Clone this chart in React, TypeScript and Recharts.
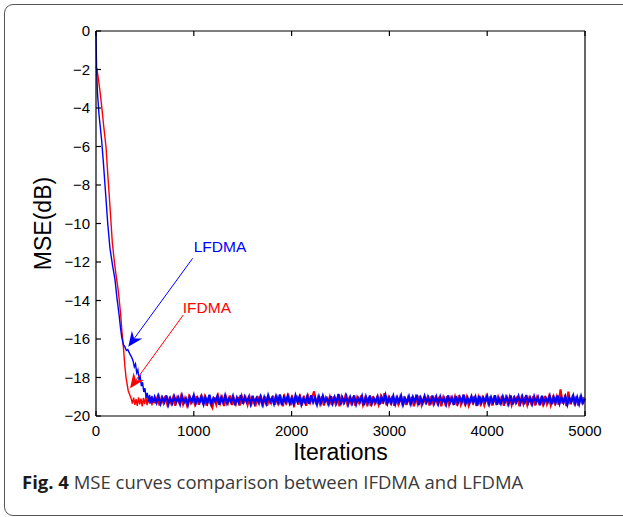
// MSE learning curves, IFDMA vs LFDMA (MATLAB-style figure with caption).

import { LineChart, Line, XAxis, YAxis, ReferenceLine, ReferenceDot, Label } from "recharts";

const X_TICKS = [0, 1000, 2000, 3000, 4000, 5000];
const Y_TICKS = [0, -2, -4, -6, -8, -10, -12, -14, -16, -18, -20];

// transient part
const IFDMA_HEAD_X = [0, 10, 25, 40, 58, 80, 102, 120, 140, 167, 190, 211, 228, 250, 265, 280, 295, 307, 320, 330, 345, 360, 372, 385, 398, 410, 422, 435, 447, 460, 472, 485, 497, 510, 522, 535, 547, 560, 572, 585, 597];
const IFDMA_HEAD_Y = [-1.85, -2.0, -2.5, -3.1, -3.9, -5.0, -6.0, -7.4, -8.9, -11.0, -12.1, -12.9, -13.5, -14.6, -15.6, -16.4, -17.4, -18.0, -18.4, -18.7, -18.9, -19.1, -19.35, -19.05, -19.42, -19.12, -19.47, -19.03, -19.4, -19.1, -19.5, -19.06, -19.38, -19.0, -19.44, -19.08, -19.36, -19.02, -19.45, -19.1, -19.33];
const LFDMA_HEAD_X = [0, 6, 15, 30, 58, 75, 92, 120, 143, 170, 194, 215, 235, 250, 263, 280, 295, 310, 325, 348, 365, 380, 392, 404, 416, 428, 440, 452, 464, 476, 488, 500, 512, 524, 536, 548, 560, 572, 585];
const LFDMA_HEAD_Y = [0, -2.0, -3.2, -4.3, -5.7, -6.8, -8.0, -10.0, -11.3, -12.2, -12.9, -13.9, -14.7, -15.4, -15.9, -16.3, -16.4, -16.6, -16.55, -16.8, -16.95, -17.15, -17.45, -17.3, -17.75, -17.6, -18.1, -17.95, -18.45, -18.25, -18.75, -18.55, -19.05, -18.8, -19.25, -18.9, -19.35, -18.95, -19.3];

// steady state, one value every 20 iterations from 600 to 5000
const LFDMA_TAIL = [
  -19.02, -19.31, -18.97, -19.36, -19.05, -19.28, -18.93, -19.4, -19.08, -19.33,
  -18.99, -19.27, -19.04, -19.38, -18.95, -19.3, -19.1, -19.42, -19.01, -19.26,
  -18.92, -19.35, -19.06, -19.29, -18.98, -19.39, -19.03, -19.32, -18.9, -19.37,
  -19.07, -19.25, -18.96, -19.41, -19.02, -19.3, -18.94, -19.34, -19.09, -19.28,
  -18.97, -19.44, -19.05, -19.31, -18.91, -19.36, -19.0, -19.27, -19.04, -19.39,
  -18.95, -19.33, -19.08, -19.29, -18.99, -19.4, -19.03, -19.35, -18.93, -19.26,
  -19.06, -19.37, -18.98, -19.3, -18.88, -19.43, -19.02, -19.28, -18.96, -19.34,
  -19.05, -19.38, -18.94, -19.27, -19.0, -19.41, -19.07, -19.32, -18.97, -19.36,
  -18.92, -19.29, -19.04, -19.4, -18.99, -19.33, -18.95, -19.26, -19.08, -19.38,
  -18.96, -19.35, -19.01, -19.3, -18.86, -19.42, -19.05, -19.28, -18.98, -19.37,
  -19.03, -19.31, -18.93, -19.39, -19.06, -19.27, -18.97, -19.44, -19.0, -19.33,
  -18.94, -19.36, -19.07, -19.29, -18.99, -19.4, -19.02, -19.25, -18.91, -19.35,
  -19.05, -19.32, -18.96, -19.38, -19.03, -19.28, -18.95, -19.41, -19.08, -19.3,
  -18.98, -19.37, -19.01, -19.26, -18.9, -19.43, -19.06, -19.33, -18.97, -19.29,
  -19.04, -19.4, -18.94, -19.31, -19.0, -19.36, -18.99, -19.27, -19.07, -19.39,
  -18.93, -19.3, -19.05, -19.42, -18.96, -19.34, -19.02, -19.28, -18.89, -19.37,
  -19.06, -19.33, -18.98, -19.29, -19.01, -19.45, -18.95, -19.32, -19.04, -19.26,
  -18.97, -19.38, -19.03, -19.3, -18.92, -19.41, -19.08, -19.35, -18.99, -19.28,
  -19.02, -19.36, -18.94, -19.4, -19.05, -19.27, -18.97, -19.33, -19.0, -19.39,
  -18.91, -19.31, -19.06, -19.37, -18.98, -19.29, -19.03, -19.44, -18.95, -19.34,
  -19.07, -19.28, -18.96, -19.39, -19.01, -19.32, -18.93, -19.36, -19.04, -19.3,
  -18.99, -19.41, -19.05, -19.27, -18.94, -19.35, -19.02, -19.38, -18.97, -19.31,
  -19.1,
];
// steady state, one value every 20 iterations from 610 to 4990
const IFDMA_TAIL = [
  -19.28, -19.0, -19.45, -19.06, -19.33, -18.97, -19.41, -19.1, -19.36, -19.02,
  -19.47, -19.05, -19.3, -18.95, -19.39, -19.08, -19.44, -19.01, -19.32, -19.07,
  -19.38, -18.96, -19.42, -19.04, -19.29, -19.0, -19.46, -19.09, -19.35, -19.56,
  -19.03, -19.4, -18.98, -19.34, -19.06, -19.48, -19.02, -19.31, -18.94, -19.43,
  -19.08, -19.37, -19.01, -19.45, -18.97, -19.3, -19.05, -19.41, -19.0, -19.36,
  -19.1, -19.5, -18.96, -19.33, -19.04, -19.39, -18.99, -19.46, -19.07, -19.32,
  -18.95, -19.42, -19.03, -19.35, -19.09, -19.49, -19.01, -19.3, -18.98, -19.44,
  -19.06, -19.38, -18.93, -19.41, -19.02, -19.34, -19.08, -19.47, -19.0, -19.31,
  -19.05, -18.72, -19.4, -19.04, -19.36, -18.97, -19.45, -19.07, -19.33, -19.01,
  -19.43, -18.99, -19.37, -19.06, -19.5, -19.02, -19.31, -18.96, -19.4, -19.08,
  -19.35, -19.0, -19.46, -19.05, -19.32, -18.94, -19.42, -19.09, -19.38, -19.03,
  -19.48, -18.98, -19.34, -19.07, -19.41, -19.01, -19.36, -18.82, -19.44, -19.04,
  -19.3, -18.96, -19.47, -19.08, -19.39, -19.02, -19.35, -18.99, -19.43, -19.06,
  -19.33, -19.0, -19.49, -19.05, -19.37, -18.95, -19.42, -19.09, -19.31, -19.03,
  -19.45, -18.97, -19.38, -19.06, -19.34, -19.01, -19.5, -19.04, -19.36, -18.98,
  -19.41, -19.07, -19.32, -19.0, -19.46, -18.93, -19.39, -19.05, -19.35, -19.02,
  -19.44, -19.08, -19.3, -18.96, -19.48, -19.03, -19.37, -19.06, -19.42, -19.0,
  -19.34, -18.99, -19.45, -19.07, -19.33, -19.02, -19.4, -18.95, -19.47, -19.05,
  -19.36, -19.01, -19.43, -19.08, -19.31, -18.97, -19.5, -19.04, -19.38, -19.0,
  -19.42, -19.06, -19.35, -18.98, -19.46, -19.03, -19.32, -19.09, -19.4, -18.96,
  -19.37, -19.02, -19.44, -19.07, -19.33, -19.0, -19.41, -18.62, -19.36, -19.05,
  -19.48, -18.74, -19.39, -19.04, -19.34, -18.99, -19.45, -19.06, -19.31, -19.02,
];

const BLUE = "#0000ff";
const RED = "#ff0000";

// text anchor + arrow (from -> tip), in data units
const ANNOTATIONS = [
  { name: "LFDMA", color: BLUE, text: [1268, -11.27], from: [988, -11.81], to: [330, -16.4] },
  { name: "IFDMA", color: RED, text: [1134, -14.45], from: [893, -14.75], to: [348, -18.56] },
];

function toRows(xs: number[], ys: number[]) {
  return xs.map((x, i) => ({ it: x, mse: ys[i] }));
}
const ifdmaHead = toRows(IFDMA_HEAD_X, IFDMA_HEAD_Y);
const lfdmaHead = toRows(LFDMA_HEAD_X, LFDMA_HEAD_Y);
// tails start from the last head point so the curve stays joined
const ifdmaTail = [ifdmaHead[ifdmaHead.length - 1], ...IFDMA_TAIL.map((v, i) => ({ it: 610 + i * 20, mse: v }))];
const lfdmaTail = [lfdmaHead[lfdmaHead.length - 1], ...LFDMA_TAIL.map((v, i) => ({ it: 600 + i * 20, mse: v }))];

const fmtY = (v: number) => (v < 0 ? `\u2212${Math.abs(v)}` : String(v));
const FONT = "'Liberation Sans', Arial, Helvetica, sans-serif";

function arrowShape(color: string) {
  return (p: any) => {
    const { x1, y1, x2, y2 } = p;
    const a = Math.atan2(y2 - y1, x2 - x1);
    const c = Math.cos(a), s = Math.sin(a);
    const L = 15, W = 6.5, N = 10;
    const wing = (side: number) => `${x2 - L * c - side * W * s},${y2 - L * s + side * W * c}`;
    const notch = `${x2 - N * c},${y2 - N * s}`;
    return (
      <g>
        <line x1={x1} y1={y1} x2={x2 - N * c} y2={y2 - N * s} stroke={color} strokeWidth={1} />
        <polygon points={`${x2},${y2} ${wing(1)} ${notch} ${wing(-1)}`} fill={color} />
      </g>
    );
  };
}

export default function App() {
  return (
    <div style={{ position: "absolute", left: 0, top: 0, width: 623, height: 517, overflow: "hidden", background: "#fff" }}>
      <div style={{
        position: "absolute", left: 4, top: 4, width: 660, height: 510,
        border: "1.5px solid #555", borderRadius: 9,
      }} />
      <LineChart width={623} height={517} data={lfdmaHead} margin={{ top: 30, right: 37, bottom: 41, left: 0 }}>
        <XAxis
          dataKey="it" type="number" domain={[0, 5000]} ticks={X_TICKS} height={60}
          stroke="#000" strokeWidth={1.2} tickSize={-5} tickMargin={14}
          tick={{ fill: "#000", fontSize: 15, fontFamily: FONT }}
        >
          <Label content={({ viewBox }: any) => (
            <text x={viewBox.x + viewBox.width / 2} y={viewBox.y + 44} textAnchor="middle"
              fontSize={23} fontFamily={FONT} fill="#000">Iterations</text>
          )} />
        </XAxis>
        <XAxis xAxisId="top" orientation="top" dataKey="it" type="number" domain={[0, 5000]} ticks={X_TICKS}
          height={1} stroke="#000" strokeWidth={1.2} tickSize={-5} tickFormatter={() => ""} />
        <YAxis
          type="number" domain={[-20, 0]} ticks={Y_TICKS} width={96} tickFormatter={fmtY}
          stroke="#000" strokeWidth={1.2} tickSize={-5} tickMargin={11}
          tick={{ fill: "#000", fontSize: 15, fontFamily: FONT }}
        >
          <Label content={({ viewBox }: any) => {
            const cx = viewBox.x + 45, cy = viewBox.y + viewBox.height / 2;
            return (
              <text x={cx} y={cy} transform={`rotate(-90 ${cx} ${cy})`} textAnchor="middle" dominantBaseline="middle"
                fontSize={23} fontFamily={FONT} fill="#000">MSE(dB)</text>
            );
          }} />
        </YAxis>
        <YAxis yAxisId="right" orientation="right" type="number" domain={[-20, 0]} ticks={Y_TICKS} width={1}
          stroke="#000" strokeWidth={1.2} tickSize={-5} tickFormatter={() => ""} />
        <Line data={ifdmaHead} dataKey="mse" stroke={RED} strokeWidth={1.4} dot={false} isAnimationActive={false} />
        <Line data={ifdmaTail} dataKey="mse" stroke={RED} strokeWidth={2.2} dot={false} isAnimationActive={false} />
        <Line data={lfdmaHead} dataKey="mse" stroke={BLUE} strokeWidth={1.4} dot={false} isAnimationActive={false} />
        <Line data={lfdmaTail} dataKey="mse" stroke={BLUE} strokeWidth={2.2} dot={false} isAnimationActive={false} />
        {ANNOTATIONS.map((a) => (
          <ReferenceLine key={a.name + "-arrow"}
            segment={[{ x: a.from[0], y: a.from[1] }, { x: a.to[0], y: a.to[1] }]}
            shape={arrowShape(a.color)} />
        ))}
        {ANNOTATIONS.map((a) => (
          <ReferenceDot key={a.name + "-text"} x={a.text[0]} y={a.text[1]} r={0}
            shape={(p: any) => (
              <text x={p.cx} y={p.cy} textAnchor="middle" dominantBaseline="middle"
                fontSize={15.5} fontFamily={FONT} fill={a.color}>{a.name}</text>
            )} />
        ))}
      </LineChart>
      <div style={{
        position: "absolute", left: 22, top: 473, fontFamily: "'Open Sans', 'Noto Sans', sans-serif",
        fontSize: 18.5, lineHeight: "18px", color: "#3a3a3a", whiteSpace: "nowrap",
      }}>
        <b style={{ color: "#1a1a1a" }}>Fig. 4</b> MSE curves comparison between IFDMA and LFDMA
      </div>
    </div>
  );
}
